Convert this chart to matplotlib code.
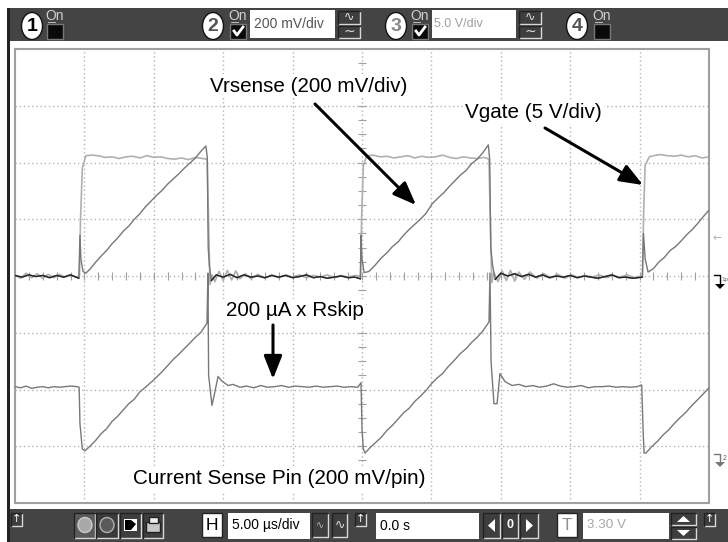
import matplotlib
matplotlib.use('Agg')
import matplotlib.pyplot as plt
import numpy as np
from matplotlib.patches import Rectangle, Ellipse, Polygon

plt.rcParams['font.family'] = ['Liberation Sans', 'DejaVu Sans']

# time in us (5 us/div, left edge = 0), level in divisions from the centre line
vgate_t = [0.0, 0.4, 0.8, 1.2, 1.6, 2.0, 2.4, 2.8, 3.2, 3.6, 4.0, 4.4, 4.65, 4.72, 4.85, 5.1, 5.5, 6.0, 6.5, 7.0,
           7.5, 8.0, 8.5, 9.0, 9.5, 10.0, 10.5, 11.0, 11.5, 12.0, 12.5, 13.0, 13.5, 13.85, 13.95, 14.05, 14.2, 14.4,
           14.7, 15.0, 15.3, 15.6, 15.9, 16.2, 16.6, 17.0, 17.5, 18.0, 18.5, 19.0, 19.5, 20.0, 20.5, 21.0, 21.5, 22.0,
           22.5, 23.0, 23.5, 24.0, 24.5, 24.9, 24.98, 25.1, 25.35, 25.8, 26.3, 26.8, 27.3, 27.8, 28.3, 28.8, 29.3,
           29.8, 30.3, 30.8, 31.3, 31.8, 32.3, 32.8, 33.3, 33.8, 34.15, 34.25, 34.35, 34.5, 34.8, 35.1, 35.4, 35.7,
           36.0, 36.3, 36.7, 37.1, 37.6, 38.1, 38.6, 39.1, 39.6, 40.1, 40.6, 41.1, 41.6, 42.1, 42.6, 43.1, 43.6, 44.1,
           44.6, 45.2, 45.3, 45.4, 45.7, 46.0, 46.5, 47.0, 47.5, 48.0, 48.5, 49.0, 49.5, 50.0]
vgate_v = [0.02, -0.04, 0.05, -0.03, 0.04, -0.04, 0.03, -0.03, 0.03, -0.02, 0.02, -0.02, 0.0, 1.0, 1.9, 2.12, 2.13,
           2.12, 2.09, 2.1, 2.07, 2.1, 2.11, 2.08, 2.12, 2.09, 2.1, 2.07, 2.06, 2.08, 2.05, 2.09, 2.07, 2.06, 0.9,
           -0.15, 0.02, -0.1, 0.08, -0.08, 0.1, -0.07, 0.09, -0.05, 0.04, -0.05, 0.03, -0.04, 0.02, -0.03, 0.02, -0.02,
           0.02, -0.03, 0.01, -0.02, 0.02, -0.03, 0.01, -0.02, 0.01, 0.0, 1.1, 1.95, 2.12, 2.13, 2.1, 2.11, 2.08, 2.1,
           2.12, 2.08, 2.11, 2.09, 2.1, 2.13, 2.09, 2.07, 2.1, 2.08, 2.07, 2.09, 2.06, 0.9, -0.12, 0.06, -0.1, 0.09,
           -0.08, 0.1, -0.09, 0.07, -0.06, 0.07, -0.04, 0.04, -0.03, 0.03, -0.04, 0.02, -0.03, 0.01, -0.02, 0.02, -0.03,
           0.01, -0.02, 0.02, -0.03, 0.0, 1.2, 1.95, 2.1, 2.12, 2.14, 2.12, 2.11, 2.13, 2.1, 2.12, 2.08, 2.1]

vrsense_t = [0.0, 0.5, 1.0, 1.5, 2.0, 2.5, 3.0, 3.5, 4.0, 4.6, 4.68, 4.75, 4.9, 5.1, 5.4, 5.8, 6.2, 6.6, 7.0, 7.4, 7.8,
             8.2, 8.6, 9.0, 9.4, 9.8, 10.2, 10.6, 11.0, 11.4, 11.8, 12.2, 12.6, 13.0, 13.4, 13.75, 13.85, 13.92, 14.0,
             14.15, 14.5, 15.0, 15.5, 16.0, 16.5, 17.0, 17.5, 18.0, 18.5, 19.0, 19.5, 20.0, 20.5, 21.0, 21.5, 22.0,
             22.5, 23.0, 23.5, 24.0, 24.5, 24.88, 24.93, 25.0, 25.15, 25.5, 25.94, 26.4, 26.8, 27.2, 27.6, 28.0, 28.4,
             28.8, 29.2, 29.6, 30.05, 30.5, 30.9, 31.3, 31.7, 32.1, 32.5, 32.9, 33.3, 33.7, 34.1, 34.2, 34.28, 34.4,
             34.6, 35.0, 35.5, 36.0, 36.5, 37.0, 37.5, 38.0, 38.5, 39.0, 39.5, 40.0, 40.5, 41.0, 41.5, 42.0, 42.5, 43.0,
             43.5, 44.0, 44.5, 45.2, 45.28, 45.4, 45.61, 46.0, 46.4, 46.8, 47.2, 47.6, 48.0, 48.4, 48.8, 49.2, 49.6,
             50.0]
vrsense_v = [0.01, -0.02, 0.02, -0.01, 0.01, -0.03, 0.01, -0.02, 0.02, -0.04, 0.72, 0.3, 0.08, 0.05, 0.12, 0.24, 0.35,
             0.45, 0.57, 0.67, 0.79, 0.88, 1.0, 1.1, 1.22, 1.32, 1.42, 1.51, 1.62, 1.71, 1.8, 1.9, 1.99, 2.08, 2.2,
             2.29, 2.1, 0.5, 0.19, -0.08, 0.02, -0.02, 0.03, -0.03, 0.02, -0.02, 0.0, -0.03, 0.01, -0.02, 0.01, -0.03,
             -0.01, 0.02, -0.03, -0.01, -0.04, -0.02, 0.0, -0.03, -0.02, -0.05, 0.72, 0.3, 0.06, 0.08, 0.19, 0.32, 0.41,
             0.52, 0.6, 0.72, 0.82, 0.91, 1.0, 1.1, 1.27, 1.38, 1.47, 1.58, 1.68, 1.78, 1.86, 1.98, 2.06, 2.17, 2.31,
             2.05, 0.5, 0.2, -0.06, 0.05, 0.0, 0.04, -0.01, 0.03, -0.02, 0.02, -0.03, 0.0, -0.02, 0.01, -0.03, 0.0, -0.02,
             -0.04, -0.01, 0.02, -0.03, -0.02, -0.04, -0.02, 0.75, 0.3, 0.07, 0.13, 0.25, 0.33, 0.45, 0.52, 0.62, 0.73,
             0.82, 0.93, 1.05, 1.16]

current_t = [0.0, 0.4, 0.8, 1.2, 1.6, 2.0, 2.4, 2.8, 3.2, 3.6, 4.0, 4.5, 4.62, 4.68, 4.85, 5.04, 5.4, 5.8, 6.2, 6.6, 7.0,
             7.4, 7.8, 8.2, 8.6, 9.0, 9.4, 10.0, 10.5, 11.0, 11.4, 11.8, 12.2, 12.6, 13.0, 13.4, 13.83, 13.9, 13.95,
             14.19, 14.35, 14.63, 14.9, 15.35, 15.7, 16.21, 16.7, 17.2, 17.7, 18.2, 18.7, 19.2, 19.7, 20.2, 20.7, 21.2,
             21.7, 22.2, 22.7, 23.2, 23.7, 24.2, 24.7, 24.93, 25.0, 25.1, 25.22, 25.6, 26.0, 26.4, 26.8, 27.2, 27.6,
             28.0, 28.4, 28.8, 29.2, 29.6, 30.0, 30.4, 30.8, 31.2, 31.6, 32.07, 32.5, 32.9, 33.3, 33.7, 34.15, 34.22,
             34.3, 34.51, 34.73, 34.94, 35.3, 35.81, 36.3, 36.8, 37.3, 37.8, 38.3, 38.8, 39.3, 39.8, 40.3, 40.8, 41.3,
             41.8, 42.3, 42.8, 43.3, 43.8, 44.3, 44.8, 45.15, 45.25, 45.32, 45.46, 45.9, 46.3, 46.7, 47.1, 47.5, 47.9,
             48.3, 48.7, 49.1, 49.5, 50.0]
current_v = [-1.95, -1.97, -1.94, -1.98, -1.96, -1.95, -1.97, -1.95, -1.96, -1.95, -1.94, -1.95, -1.96, -2.6, -3.05,
             -3.08, -3.0, -2.9, -2.78, -2.69, -2.56, -2.47, -2.36, -2.25, -2.17, -2.04, -1.96, -1.83, -1.71, -1.58,
             -1.47, -1.38, -1.28, -1.18, -1.08, -0.99, -0.83, 0.05, -1.75, -2.28, -2.1, -1.77, -1.85, -1.93, -1.91, -1.96,
             -1.94, -1.97, -1.93, -1.96, -1.95, -1.93, -1.96, -1.94, -1.95, -1.96, -1.94, -1.96, -1.95, -1.94, -1.96,
             -1.95, -1.96, -1.88, -2.7, -3.05, -3.12, -3.02, -2.93, -2.84, -2.72, -2.63, -2.52, -2.41, -2.33, -2.21,
             -2.12, -2.02, -1.9, -1.8, -1.72, -1.6, -1.5, -1.37, -1.28, -1.17, -1.08, -0.97, -0.81, 0.05, -1.52, -2.25,
             -2.25, -1.72, -1.86, -1.93, -1.91, -1.95, -1.93, -1.96, -1.94, -1.9, -1.94, -1.96, -1.95, -1.93, -1.97,
             -1.95, -1.95, -1.94, -1.96, -1.95, -1.96, -1.95, -1.92, -2.7, -3.12, -3.12, -3.0, -2.91, -2.8, -2.71,
             -2.6, -2.5, -2.41, -2.3, -2.2, -2.1, -1.97]

channels = ['1', '2', '3', '4']
channel_x = [32, 213, 396, 577]
check_x = [47, 230, 412, 594]
check_on = [False, True, True, False]

fig = plt.figure(figsize=(7.28, 5.42), dpi=100, facecolor='white')

ax = fig.add_axes([15 / 728, (542 - 503) / 542, 694 / 728, 454 / 542])
ax.set_xlim(0, 50)
ax.set_ylim(-4, 4)
ax.set_xticks(np.arange(5, 50, 5))
ax.set_yticks(np.arange(-3, 4, 1))
ax.tick_params(length=0, labelbottom=False, labelleft=False)
ax.grid(True, color='#b4b4b4', lw=1, ls=(0, (1, 2)))
ax.set_axisbelow(True)
for s in ax.spines.values():
    s.set_color('#a0a0a0')
    s.set_linewidth(1.5)
# small ticks on the two centre lines
xt = np.arange(1, 50, 1)
ax.plot(xt, np.zeros_like(xt), ls='none', marker='|', ms=6, mew=0.8, color='#a0a0a0', zorder=1)
yt = np.arange(-3.75, 4, 0.25)
ax.plot(np.full_like(yt, 25), yt, ls='none', marker='_', ms=6, mew=0.8, color='#a0a0a0', zorder=1)

vrsense_t = np.array(vrsense_t)
vrsense_v = np.array(vrsense_v)
ax.plot(vgate_t, vgate_v, color='#b0b0b0', lw=1.2, zorder=2)
ax.plot(vrsense_t, vrsense_v, color='#777777', lw=1.0, zorder=3)
# the off-time part of Vrsense shows up almost black
ax.plot(vrsense_t, np.ma.masked_where(vrsense_v > 0.06, vrsense_v), color='#222222', lw=1.0, zorder=3)
ax.plot(current_t, current_v, color='#787878', lw=1.0, zorder=4)

# window chrome and annotations, in picture pixels
ui = fig.add_axes([0, 0, 1, 1], zorder=5)
ui.set_xlim(0, 728)
ui.set_ylim(542, 0)
ui.axis('off')

DARK = '#444444'


def box(x0, y0, x1, y1, fc=DARK, ec='none', lw=1.0, z=1):
    ui.add_patch(Rectangle((x0, y0), x1 - x0, y1 - y0, fc=fc, ec=ec, lw=lw, zorder=z))


def button(x0, y0, x1, y1, fc='#3e3e3e'):
    box(x0, y0, x1, y1, fc=fc, ec='none', z=2)
    ui.plot([x0, x1, x1], [y1, y1, y0], color='#d8d8d8', lw=1, zorder=3)
    ui.plot([x0, x0, x1], [y1, y0, y0], color='#222222', lw=1, zorder=3)


box(7, 8, 728, 41)
box(7, 509, 728, 542)
box(7, 8, 9.5, 542, fc='#222222')

for name, cx, chx, on in zip(channels, channel_x, check_x, check_on):
    ui.add_patch(Ellipse((cx, 26), 21, 27, fc='white', ec='#111111', lw=1, zorder=2))
    col = '#888888' if name == '3' else ('#555555' if name == '2' or name == '4' else 'black')
    ui.text(cx, 26.5, name, ha='center', va='center', fontsize=14, fontweight='bold', color=col, zorder=3)
    ui.text(chx + 8, 15.5, 'On', ha='center', va='center', fontsize=10, color='#d0d0d0', zorder=3)
    ui.plot([chx + 1, chx + 8], [22, 22], color='#d0d0d0', lw=0.6, zorder=3)
    box(chx, 24, chx + 16, 39, fc='#0a0a0a', ec='#777777', z=2)
    if on:
        ui.plot([chx + 4, chx + 7, chx + 13], [31, 35, 27], color='white', lw=2, zorder=3)

box(250, 10, 335, 38, fc='white', z=2)
ui.text(254, 24, '200 mV/div', va='center', fontsize=10, color='#555555', zorder=3)
box(432, 10, 516, 38, fc='white', z=2)
ui.text(434, 24, '5.0 V/div', va='center', fontsize=9, color='#a0a0a0', zorder=3)
for x0 in [338, 519]:
    button(x0, 11, x0 + 22, 24)
    button(x0, 26, x0 + 22, 38)
    ui.text(x0 + 11, 17, '∿', ha='center', va='center', fontsize=9, color='#dddddd', family='DejaVu Sans', zorder=4)
    ui.text(x0 + 11, 32, '~', ha='center', va='center', fontsize=10, color='#dddddd', family='DejaVu Sans', zorder=4)

# bottom bar
for x0 in [11, 355, 704]:
    button(x0, 513, x0 + 11, 526)
    ui.text(x0 + 5.5, 519, '↑', ha='center', va='center', fontsize=8, color='white', family='DejaVu Sans', zorder=4)
button(74, 513, 95, 538, fc='#5a5a5a')
button(96, 513, 118, 538, fc='#3a3a3a')
ui.add_patch(Ellipse((85, 525), 14, 15, fc='#a8a8a8', ec='#cccccc', lw=1, zorder=4))
ui.add_patch(Ellipse((107, 525), 14, 15, fc='#5a5a5a', ec='#b0b0b0', lw=1, zorder=4))
button(120, 513, 141, 538)
box(124, 519, 137, 531, fc='white', z=4)
ui.add_patch(Polygon([(125, 520), (131, 520), (136, 524), (131, 530), (125, 530)], fc='black', zorder=5))
button(143, 513, 163, 538)
box(146, 522, 160, 532, fc='#c8c8c8', ec='#222222', z=4)
box(149, 517, 158, 523, fc='#eeeeee', ec='#222222', z=4)

box(202, 513, 222, 537, fc='white', ec='#222222', z=2)
ui.text(212, 525.5, 'H', ha='center', va='center', fontsize=12.5, color='black', zorder=3)
box(228, 513, 310, 539, fc='white', z=2)
ui.text(232, 525.5, '5.00 µs/div', va='center', fontsize=10, color='black', zorder=3)
button(312, 513, 328, 537)
button(332, 513, 347, 537)
ui.text(320, 525, '∿', ha='center', va='center', fontsize=7, color='#bbbbbb', family='DejaVu Sans', zorder=4)
ui.text(339.5, 525, '∿', ha='center', va='center', fontsize=9, color='#dddddd', family='DejaVu Sans', zorder=4)
box(376, 513, 479, 539, fc='white', z=2)
ui.text(380, 525.5, '0.0 s', va='center', fontsize=10, color='black', zorder=3)
button(483, 513, 500, 538)
button(502, 513, 518, 538)
button(520, 513, 538, 538)
ui.add_patch(Polygon([(495, 519), (495, 532), (488, 525.5)], fc='white', zorder=4))
ui.add_patch(Polygon([(526, 519), (526, 532), (533, 525.5)], fc='white', zorder=4))
ui.text(510, 525.5, '0', ha='center', va='center', fontsize=9, fontweight='bold', color='white', zorder=4)
box(557, 513, 577, 537, fc='white', ec='#222222', z=2)
ui.text(567, 525.5, 'T', ha='center', va='center', fontsize=12.5, color='#909090', zorder=3)
box(583, 513, 669, 539, fc='white', z=2)
ui.text(587, 525.5, '3.30 V', va='center', fontsize=9.7, color='#a8a8a8', zorder=3)
button(671, 513, 696, 525)
button(671, 527, 696, 539)
ui.add_patch(Polygon([(677, 522), (690, 522), (683.5, 516)], fc='white', zorder=4))
ui.add_patch(Polygon([(677, 530), (690, 530), (683.5, 536)], fc='white', zorder=4))

# channel markers on the right
ui.text(717, 238, '←', ha='center', va='center', fontsize=8, color='#b4b4b4', family='DejaVu Sans')
ui.plot([714, 720, 720], [275, 275, 285], color='black', lw=1)
ui.add_patch(Polygon([(715, 284), (725, 284), (720, 289)], fc='black'))
ui.text(725, 279, '1p', ha='center', va='center', fontsize=4.5, color='#666666')
ui.plot([714, 720, 720], [454, 454, 463], color='#777777', lw=1)
ui.add_patch(Polygon([(715, 462), (725, 462), (720, 467)], fc='#777777'))
ui.text(725, 458, '2', ha='center', va='center', fontsize=5, color='#666666')

# labels
white_bg = dict(fc='white', ec='none', pad=1.5)
ui.text(309, 86, 'Vrsense (200 mV/div)', ha='center', va='center', fontsize=14.9, color='black', bbox=white_bg)
ui.text(533.5, 112, 'Vgate (5 V/div)', ha='center', va='center', fontsize=14.9, color='black', bbox=white_bg)
ui.text(294.5, 311, '200 µA x Rskip', ha='center', va='center', fontsize=14.9, color='black', bbox=white_bg)
ui.text(279.5, 479, 'Current Sense Pin (200 mV/pin)', ha='center', va='center', fontsize=14.9, color='black', bbox=white_bg)

arrow = dict(arrowstyle='-|>,head_length=1.4,head_width=0.55', color='black', lw=2.2, shrinkA=0, shrinkB=0)
ui.annotate('', xy=(416, 205), xytext=(315, 104), arrowprops=arrow)
ui.annotate('', xy=(643, 185), xytext=(545, 128), arrowprops=arrow)
ui.annotate('', xy=(273, 379), xytext=(273, 325), arrowprops=arrow)

fig.savefig('out.png', dpi=100)
